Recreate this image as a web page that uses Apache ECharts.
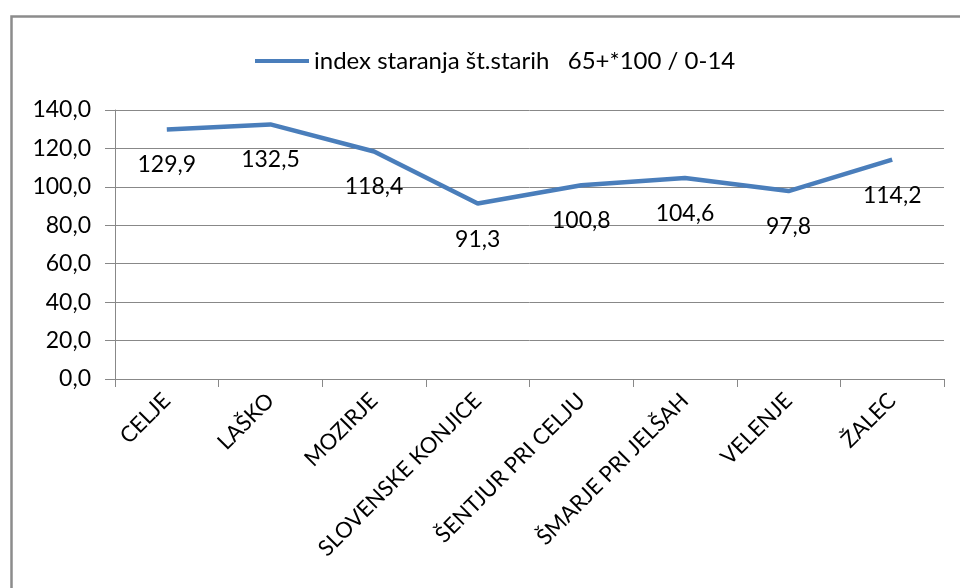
<!DOCTYPE html>
<html>
<head>
<meta charset="utf-8">
<script src="https://cdn.jsdelivr.net/npm/echarts@6/dist/echarts.min.js"></script>
<style>html,body{margin:0;padding:0;background:#fff}#c{width:960px;height:588px}</style>
</head>
<body>
<div id="c"></div>
<script>
var categories = ['CELJE', 'LAŠKO', 'MOZIRJE', 'SLOVENSKE KONJICE', 'ŠENTJUR PRI CELJU', 'ŠMARJE PRI JELŠAH', 'VELENJE', 'ŽALEC'];
var seriesName = 'index staranja št.starih   65+*100 / 0-14';
var values = [129.9, 132.5, 118.4, 91.3, 100.8, 104.6, 97.8, 114.2];
var yMin = 0, yMax = 140, yStep = 20;

function fmt(v) { return Number(v).toFixed(1).replace('.', ','); }
var FONT = 'Lato, "Open Sans", sans-serif';

var chart = echarts.init(document.getElementById('c'), null, { renderer: 'canvas' });
chart.setOption({
  backgroundColor: '#fff',
  animation: false,
  graphic: [{
    type: 'polyline',
    shape: { points: [[11.5, 600], [11.5, 16.5], [970, 16.5]] },
    style: { stroke: '#8c8c8c', lineWidth: 2.5, fill: null },
    silent: true
  }],
  legend: {
    top: 44,
    left: 250,
    itemWidth: 54,
    itemHeight: 4,
    itemGap: 4,
    textStyle: { fontFamily: FONT, fontSize: 24, color: '#000' },
    data: [{ name: seriesName, icon: 'rect' }]
  },
  grid: { left: 115, right: 16, top: 110, bottom: 209, containLabel: false },
  xAxis: {
    type: 'category',
    data: categories,
    boundaryGap: true,
    axisLine: { lineStyle: { color: '#888', width: 1 } },
    axisTick: { show: true, length: 8, interval: 0, lineStyle: { color: '#888' } },
    axisLabel: { rotate: 45, interval: 0, margin: 18, fontFamily: FONT, fontSize: 22, color: '#000' }
  },
  yAxis: {
    type: 'value',
    min: yMin, max: yMax, interval: yStep,
    axisLine: { show: true, lineStyle: { color: '#888', width: 1 } },
    axisTick: { show: true, length: 10, lineStyle: { color: '#888' } },
    splitLine: { lineStyle: { color: '#888', width: 1 } },
    axisLabel: { margin: 24, fontFamily: FONT, fontSize: 23, color: '#000', formatter: fmt }
  },
  series: [{
    name: seriesName,
    type: 'line',
    data: values,
    showSymbol: true,
    symbol: 'circle',
    symbolSize: 0.1,
    lineStyle: { color: '#4A7EBB', width: 4.5 },
    itemStyle: { color: '#4A7EBB' },
    label: {
      show: true, position: 'bottom', distance: 24,
      fontFamily: FONT, fontSize: 23, color: '#000',
      formatter: function (p) { return fmt(p.value); }
    }
  }]
});
</script>
</body>
</html>
